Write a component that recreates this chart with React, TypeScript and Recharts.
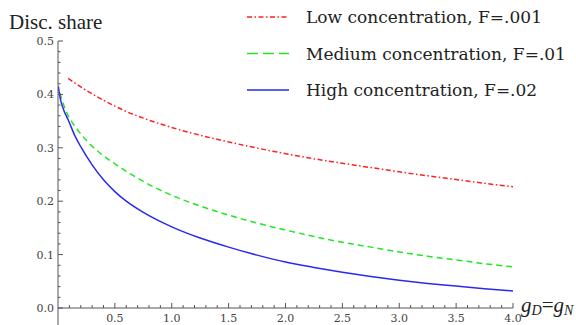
import React from "react";
import { LineChart, Line, XAxis, YAxis, Legend, ReferenceLine } from "recharts";

const lowX = [0.09, 0.15, 0.2, 0.3, 0.4, 0.5, 0.6, 0.75, 1.0, 1.25, 1.5, 1.75, 2.0, 2.25, 2.5, 2.75, 3.0, 3.25, 3.5, 3.75, 4.0];
const lowY = [0.43, 0.421, 0.414, 0.401, 0.389, 0.378, 0.368, 0.3555, 0.338, 0.3235, 0.311, 0.2995, 0.289, 0.2795, 0.271, 0.263, 0.255, 0.2475, 0.2405, 0.2335, 0.227];

const medX = [0.016, 0.05, 0.1, 0.15, 0.2, 0.3, 0.4, 0.5, 0.6, 0.75, 1.0, 1.25, 1.5, 1.75, 2.0, 2.25, 2.5, 2.75, 3.0, 3.25, 3.5, 3.75, 4.0];
const medY = [0.403, 0.38, 0.356, 0.34, 0.326, 0.303, 0.285, 0.27, 0.256, 0.237, 0.211, 0.191, 0.174, 0.159, 0.146, 0.134, 0.123, 0.114, 0.105, 0.097, 0.09, 0.083, 0.077];

const highX = [0.003, 0.02, 0.05, 0.09, 0.15, 0.2, 0.3, 0.4, 0.5, 0.6, 0.75, 1.0, 1.25, 1.5, 1.75, 2.0, 2.25, 2.5, 2.75, 3.0, 3.25, 3.5, 3.75, 4.0];
const highY = [0.415, 0.392, 0.371, 0.352, 0.322, 0.302, 0.268, 0.24, 0.218, 0.2, 0.179, 0.152, 0.131, 0.114, 0.099, 0.086, 0.076, 0.067, 0.059, 0.052, 0.046, 0.041, 0.036, 0.032];

const seriesNames = ["Low concentration, F=.001", "Medium concentration, F=.01", "High concentration, F=.02"];
const seriesColors = ["#ff2020", "#22e622", "#2a2aee"];
const seriesDash = ["5 2.5 1.5 2.5", "6 4", undefined];
const legendDash = ["5 2.5 1.5 2.5", "11 5", undefined];

const xTicks = Array.from({ length: 40 }, (_, i) => Math.round((i + 1) * 10) / 100);
const yTicks = Array.from({ length: 26 }, (_, i) => Math.round(i * 2) / 100);

const zip = (xs: number[], ys: number[]) => xs.map((x, i) => ({ x, y: ys[i] }));
const seriesData = [zip(lowX, lowY), zip(medX, medY), zip(highX, highY)];

const AXIS = "#555";
const TICKFONT = "DejaVu Serif";

const isMult = (v: number, step: number) => Math.abs(v / step - Math.round(v / step)) < 1e-6;

const YTick = (props: any) => {
  const { x, y, payload } = props;
  const v = payload.value;
  const major = isMult(v, 0.1);
  return (
    <g>
      <line x1={x} y1={y} x2={x + (major ? 5 : 2.5)} y2={y} stroke={AXIS} strokeWidth={1} />
      {major && (
        <text x={x - 4} y={y + 4} textAnchor="end" fontFamily={TICKFONT} fontSize={11} fill="#444">
          {v.toFixed(1)}
        </text>
      )}
    </g>
  );
};

const XTick = (props: any) => {
  const { x, y, payload } = props;
  const v = payload.value;
  const major = isMult(v, 0.5);
  return (
    <g>
      <line x1={x} y1={y} x2={x} y2={y - (major ? 5 : 3)} stroke={AXIS} strokeWidth={1} />
      {major && (
        <text x={x} y={y + 14} textAnchor="middle" fontFamily={TICKFONT} fontSize={11} fill="#444">
          {v.toFixed(1)}
        </text>
      )}
    </g>
  );
};

const renderLegend = () => (
  <svg width={576} height={110} style={{ display: "block" }}>
    {seriesNames.map((name, i) => {
      const cy = 17 + i * 36.5;
      return (
        <g key={name}>
          <line x1={247} y1={cy} x2={289} y2={cy} stroke={seriesColors[i]} strokeWidth={1.5} strokeDasharray={legendDash[i]} />
          <text x={306} y={cy + 6} fontFamily="DejaVu Serif" fontSize={17} fill="#222">
            {name}
          </text>
        </g>
      );
    })}
  </svg>
);

export default function App() {
  return (
    <div style={{ position: "absolute", left: 0, top: 0, width: 576, height: 325, background: "#fff" }}>
      <LineChart width={576} height={325} margin={{ top: 41, right: 63, bottom: 0, left: 8 }}>
        <XAxis
          type="number"
          dataKey="x"
          domain={[0, 4]}
          ticks={xTicks}
          interval={0}
          allowDataOverflow
          height={17}
          tickSize={0}
          tickMargin={0}
          tickLine={false}
          axisLine={{ stroke: AXIS }}
          tick={<XTick />}
          label={{
            content: () => (
              <text x={521} y={312} fontFamily="Liberation Serif" fontSize={21} fontStyle="italic" fill="#222">
                g<tspan fontSize={14} dy={3}>D</tspan>
                <tspan dy={-3} fontStyle="normal">=</tspan>g<tspan fontSize={14} dy={3}>N</tspan>
              </text>
            ),
          }}
        />
        <YAxis
          type="number"
          domain={[0, 0.5]}
          ticks={yTicks}
          interval={0}
          width={50}
          tickSize={0}
          tickMargin={0}
          tickLine={false}
          axisLine={{ stroke: AXIS }}
          tick={<YTick />}
          label={{
            content: () => (
              <text x={9} y={29} fontFamily="Liberation Serif" fontSize={21} fill="#222">
                Disc. share
              </text>
            ),
          }}
        />
        <ReferenceLine
          segment={[{ x: 0, y: 0 }, { x: 0, y: -0.032 }]}
          stroke={AXIS}
          ifOverflow="visible"
        />
        <Legend
          layout="horizontal"
          verticalAlign="middle"
          align="center"
          wrapperStyle={{ left: 0, top: 0, width: 576, height: 110 }}
          content={renderLegend}
        />
        {seriesData.map((d, i) => (
          <Line
            key={seriesNames[i]}
            data={d}
            dataKey="y"
            name={seriesNames[i]}
            type="monotone"
            stroke={seriesColors[i]}
            strokeWidth={1.5}
            strokeDasharray={seriesDash[i]}
            dot={false}
            activeDot={false}
            isAnimationActive={false}
          />
        ))}
      </LineChart>
    </div>
  );
}
